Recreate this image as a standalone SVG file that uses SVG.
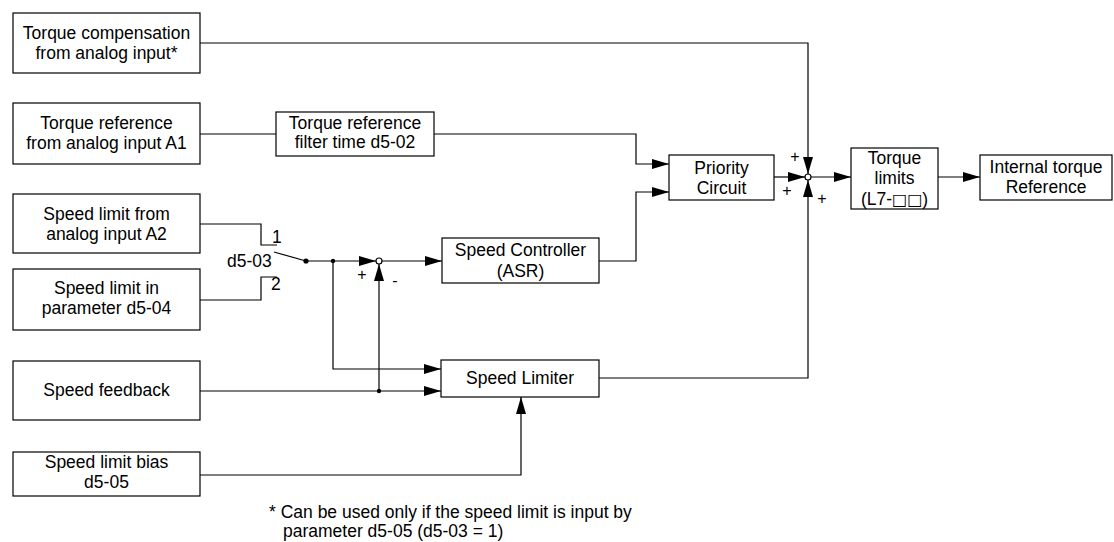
<svg xmlns="http://www.w3.org/2000/svg" width="1114" height="542" viewBox="0 0 1114 542">
<style>
.box{fill:#fff;stroke:#000;stroke-width:1.2}
.ln{fill:none;stroke:#000;stroke-width:1.2}
text{font-family:"Liberation Sans",Arial,"DejaVu Sans",sans-serif;font-size:17.5px;fill:#000}
.c{text-anchor:middle}
.s{font-size:16px}
.sq{font-family:"DejaVu Sans",sans-serif;font-size:16px}
</style>
<defs>
<marker id="ah" viewBox="0 0 17 10" refX="17" refY="5" markerWidth="17" markerHeight="10" markerUnits="userSpaceOnUse" orient="auto">
<path d="M0,0 L17,5 L0,10 Z" fill="#000"/>
</marker>
</defs>
<rect width="1114" height="542" fill="#fff"/>
<g id="connectors">
<path class="ln" d="M200,43 H808 V174" marker-end="url(#ah)"/>
<path class="ln" d="M200,134 H276"/>
<path class="ln" d="M434,134 H636 V164 H669" marker-end="url(#ah)"/>
<path class="ln" d="M599,261 H636 V192 H669" marker-end="url(#ah)"/>
<path class="ln" d="M774,177 H805" marker-end="url(#ah)"/>
<path class="ln" d="M811,177 H851" marker-end="url(#ah)"/>
<path class="ln" d="M938,177 H980" marker-end="url(#ah)"/>
<path class="ln" d="M599,378 H808 V180" marker-end="url(#ah)"/>
<path class="ln" d="M200,224 H261 V245 H277"/>
<path class="ln" d="M200,300 H261 V277 H277"/>
<path class="ln" d="M274,252 L306,261"/>
<path class="ln" d="M306,261 H376" marker-end="url(#ah)"/>
<path class="ln" d="M382,261 H442" marker-end="url(#ah)"/>
<path class="ln" d="M333,261 V369 H441" marker-end="url(#ah)"/>
<path class="ln" d="M200,391 H441" marker-end="url(#ah)"/>
<path class="ln" d="M379,391 V264" marker-end="url(#ah)"/>
<path class="ln" d="M200,475 H521 V397" marker-end="url(#ah)"/>
<circle cx="306" cy="261" r="2.6" fill="#000"/>
<circle cx="333" cy="261" r="2.2" fill="#000"/>
<circle cx="379" cy="391" r="2.2" fill="#000"/>
<circle cx="379" cy="261" r="3" fill="#fff" stroke="#000" stroke-width="1.2"/>
<circle cx="808" cy="177" r="3" fill="#fff" stroke="#000" stroke-width="1.2"/>
<text x="272" y="243">1</text>
<text x="271" y="290">2</text>
<text x="227" y="267">d5-03</text>
<text class="s c" x="362" y="280">+</text>
<text class="s c" x="395" y="286">-</text>
<text class="s c" x="795" y="162">+</text>
<text class="s c" x="787" y="196">+</text>
<text class="s c" x="822" y="204">+</text>
</g>
<g id="n-torque-comp">
<rect class="box" x="13" y="13" width="187" height="60"/>
<text class="c" x="106.5" y="39">Torque compensation</text>
<text class="c" x="106.5" y="59">from analog input*</text>
</g>
<g id="n-torque-ref">
<rect class="box" x="13" y="103" width="187" height="61"/>
<text class="c" x="106.5" y="129">Torque reference</text>
<text class="c" x="106.5" y="149">from analog input A1</text>
</g>
<g id="n-filter">
<rect class="box" x="276" y="112" width="158" height="44"/>
<text class="c" x="355" y="129">Torque reference</text>
<text class="c" x="355" y="148">filter time d5-02</text>
</g>
<g id="n-speed-a2">
<rect class="box" x="13" y="194" width="187" height="59"/>
<text class="c" x="106.5" y="220">Speed limit from</text>
<text class="c" x="106.5" y="240">analog input A2</text>
</g>
<g id="n-speed-d504">
<rect class="box" x="13" y="269" width="187" height="61"/>
<text class="c" x="106.5" y="294">Speed limit in</text>
<text class="c" x="106.5" y="314">parameter d5-04</text>
</g>
<g id="n-feedback">
<rect class="box" x="13" y="361" width="187" height="59"/>
<text class="c" x="106.5" y="396">Speed feedback</text>
</g>
<g id="n-bias">
<rect class="box" x="13" y="452" width="187" height="44"/>
<text class="c" x="106.5" y="468">Speed limit bias</text>
<text class="c" x="106.5" y="488">d5-05</text>
</g>
<g id="n-asr">
<rect class="box" x="442" y="238" width="157" height="45"/>
<text class="c" x="520.5" y="256">Speed Controller</text>
<text class="c" x="520.5" y="277">(ASR)</text>
</g>
<g id="n-limiter">
<rect class="box" x="441" y="360" width="158" height="37"/>
<text class="c" x="520" y="384">Speed Limiter</text>
</g>
<g id="n-priority">
<rect class="box" x="669" y="155" width="105" height="45"/>
<text class="c" x="721.5" y="174">Priority</text>
<text class="c" x="721.5" y="194">Circuit</text>
</g>
<g id="n-torque-limits">
<rect class="box" x="851" y="148" width="87" height="61"/>
<text class="c" x="894.5" y="164">Torque</text>
<text class="c" x="894.5" y="184">limits</text>
<text class="c" x="894.5" y="205">(L7-<tspan class="sq">□□</tspan>)</text>
</g>
<g id="n-internal">
<rect class="box" x="980" y="155" width="132" height="45"/>
<text class="c" x="1046" y="173">Internal torque</text>
<text class="c" x="1046" y="193">Reference</text>
</g>
<g id="footnote">
<text x="269" y="518">* Can be used only if the speed limit is input by</text>
<text x="283" y="537">parameter d5-05 (d5-03 = 1)</text>
</g>
</svg>
